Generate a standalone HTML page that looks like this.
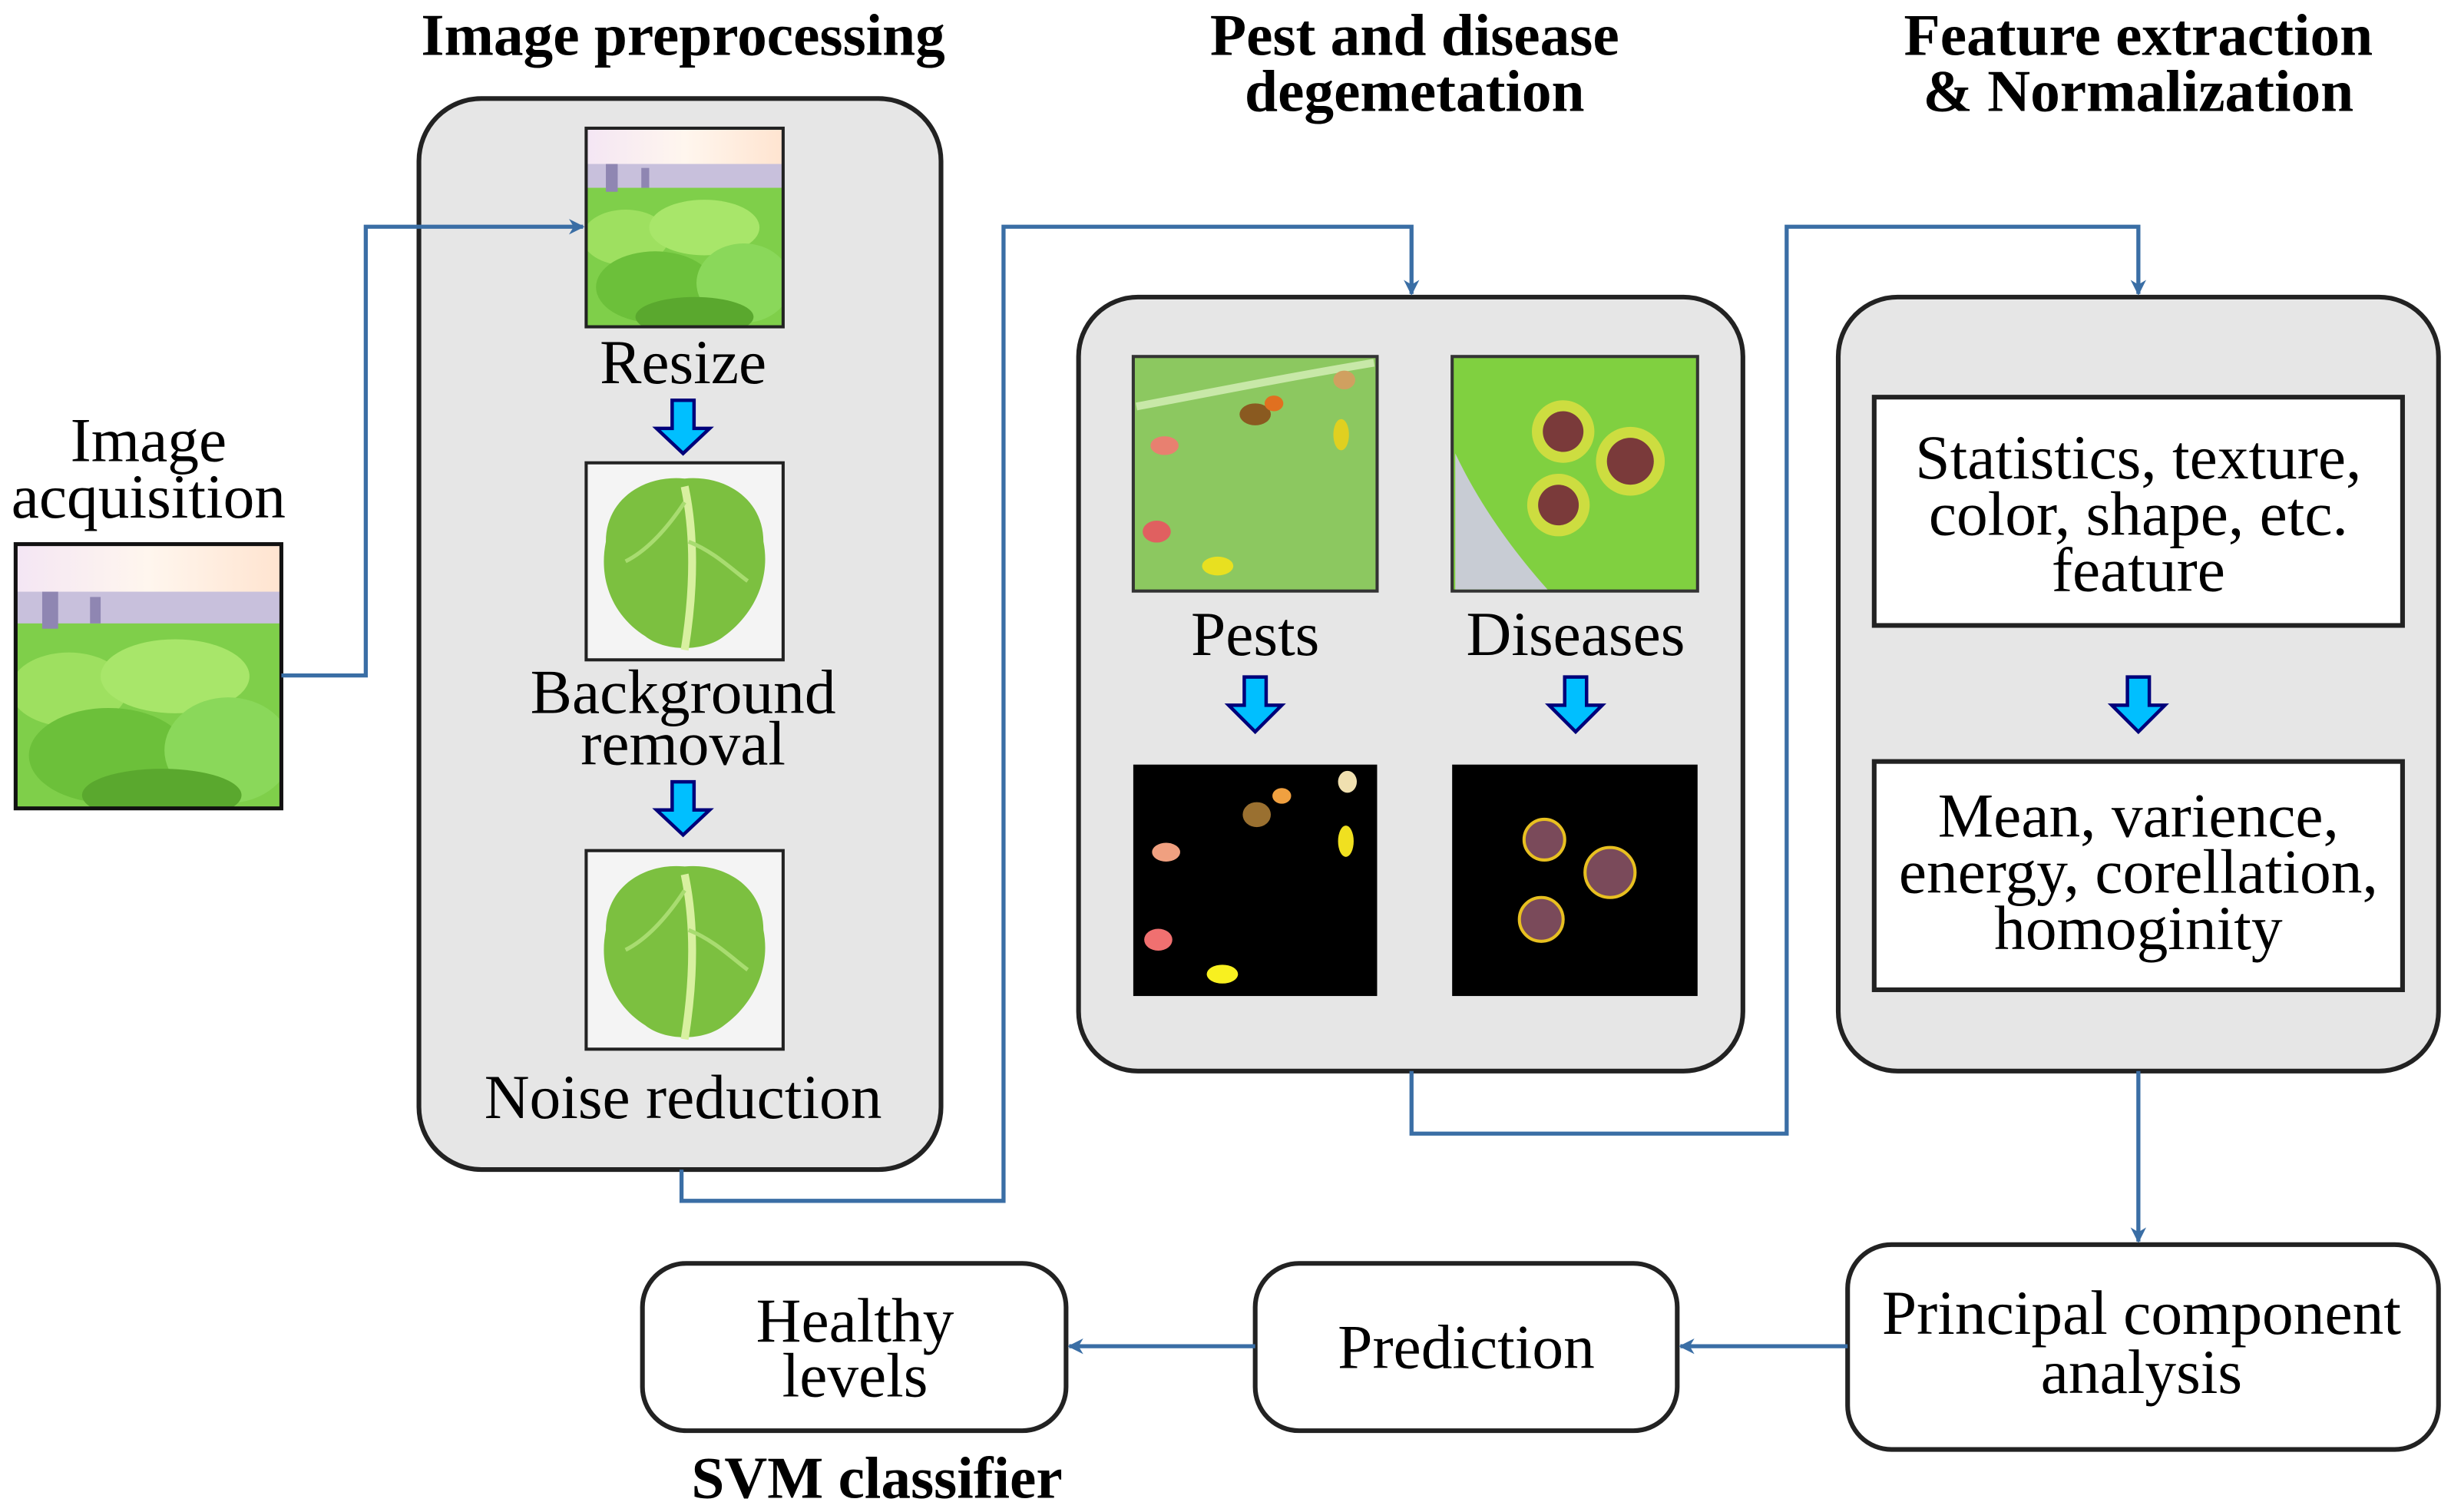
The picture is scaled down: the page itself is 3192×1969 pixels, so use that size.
<!DOCTYPE html>
<html><head><meta charset="utf-8"><style>
html,body{margin:0;padding:0;background:#fff;}
svg{display:block;}
text{font-family:"Liberation Serif",serif;fill:#000;}
.t{font-size:40px;text-anchor:middle;}
.b{font-size:38px;font-weight:bold;text-anchor:middle;}
.ln{fill:none;stroke:#3a6ea5;stroke-width:2.6;}
.ar{fill:#00bfff;stroke:#00007a;stroke-width:2.2;stroke-linejoin:miter;}
</style></head><body>
<svg width="3192" height="1969" viewBox="0 0 1568 967" preserveAspectRatio="none" xmlns="http://www.w3.org/2000/svg">
<defs>
<marker id="m" markerWidth="10" markerHeight="10" refX="9" refY="5" orient="auto" markerUnits="userSpaceOnUse"><path d="M0,0 L10,5 L0,10 L3,5 Z" fill="#3a6ea5"/></marker>
<linearGradient id="sky" x1="0" y1="0" x2="1" y2="0"><stop offset="0" stop-color="#f4e6f4"/><stop offset=".5" stop-color="#fff6ee"/><stop offset="1" stop-color="#ffe4d0"/></linearGradient>
<clipPath id="c1"><rect x="0" y="0" width="100" height="100"/></clipPath>
<g id="farm" clip-path="url(#c1)">
<rect x="0" y="0" width="100" height="100" fill="#7fcf4a"/>
<rect x="0" y="0" width="100" height="26" fill="url(#sky)"/>
<rect x="0" y="18" width="100" height="12" fill="#c8c0dc"/>
<rect x="10" y="18" width="6" height="14" fill="#8f86b2"/>
<rect x="28" y="20" width="4" height="10" fill="#8f86b2"/>
<ellipse cx="20" cy="55" rx="22" ry="14" fill="#9ee060"/>
<ellipse cx="60" cy="50" rx="28" ry="14" fill="#a8e66a"/>
<ellipse cx="35" cy="80" rx="30" ry="18" fill="#6cc03a"/>
<ellipse cx="80" cy="78" rx="24" ry="20" fill="#8ad85a"/>
<ellipse cx="55" cy="95" rx="30" ry="10" fill="#5aa82e"/>
</g>
<g id="lettuce">
<rect x="0" y="0" width="100" height="100" fill="#f4f4f4"/>
<path d="M50,8 C70,6 90,18 90,40 C94,60 84,78 70,88 C60,96 40,96 30,88 C14,78 6,60 10,40 C10,18 30,6 50,8 Z" fill="#7cc040"/>
<path d="M50,12 C56,40 54,70 50,95" stroke="#d8f0a0" stroke-width="4" fill="none"/>
<path d="M50,20 C40,35 30,45 20,50 M52,40 C65,45 75,55 82,60" stroke="#a8dc70" stroke-width="2" fill="none"/>
</g>
</defs>

<text class="b" x="437" y="35">Image preprocessing</text>
<text class="b" x="905" y="35">Pest and disease</text>
<text class="b" x="905" y="71">degemetation</text>
<text class="b" x="1368" y="35">Feature extraction</text>
<text class="b" x="1368" y="71">&amp; Normalization</text>

<text class="t" x="95" y="295">Image</text>
<text class="t" x="95" y="331">acquisition</text>
<use href="#farm" transform="translate(10,348) scale(1.7,1.69)"/>
<rect x="10" y="348" width="170" height="169" fill="none" stroke="#111" stroke-width="2.5"/>

<rect x="268" y="63" width="334" height="685" rx="40" fill="#e6e6e6" stroke="#222" stroke-width="3"/>
<use href="#farm" transform="translate(375,82) scale(1.26,1.27)"/>
<rect x="375" y="82" width="126" height="127" fill="none" stroke="#222" stroke-width="2"/>
<text class="t" x="437" y="245">Resize</text>
<path class="ar" d="M430,256 L444,256 L444,274 L454,274 L437,290 L420,274 L430,274 Z"/>
<use href="#lettuce" transform="translate(375,296) scale(1.26,1.26)"/>
<rect x="375" y="296" width="126" height="126" fill="none" stroke="#222" stroke-width="2"/>
<text class="t" x="437" y="456">Background</text>
<text class="t" x="437" y="489">removal</text>
<path class="ar" d="M430,500 L444,500 L444,518 L454,518 L437,534 L420,518 L430,518 Z"/>
<use href="#lettuce" transform="translate(375,544) scale(1.26,1.27)"/>
<rect x="375" y="544" width="126" height="127" fill="none" stroke="#222" stroke-width="2"/>
<text class="t" x="437" y="715">Noise reduction</text>

<rect x="690" y="190" width="425" height="495" rx="38" fill="#e6e6e6" stroke="#222" stroke-width="3"/>
<rect x="725" y="228" width="156" height="150" fill="#8cc860" stroke="#333" stroke-width="2"/>
<path d="M727,260 C780,250 830,240 879,232" stroke="#c8e8a8" stroke-width="5" fill="none"/>
<ellipse cx="745" cy="285" rx="9" ry="6" fill="#e88070"/>
<ellipse cx="740" cy="340" rx="9" ry="7" fill="#e06060"/>
<ellipse cx="803" cy="265" rx="10" ry="7" fill="#8a5a20"/>
<ellipse cx="815" cy="258" rx="6" ry="5" fill="#e07020"/>
<ellipse cx="860" cy="243" rx="7" ry="6" fill="#d0a060"/>
<ellipse cx="858" cy="278" rx="5" ry="10" fill="#e0d020"/>
<ellipse cx="779" cy="362" rx="10" ry="6" fill="#e8e020"/>
<rect x="929" y="228" width="157" height="150" fill="#80d040" stroke="#333" stroke-width="2"/>
<path d="M931,290 C950,330 975,360 990,377 L931,377 Z" fill="#c8ccd4"/>
<circle cx="1000" cy="276" r="20" fill="#e0e040" opacity=".8"/>
<circle cx="1043" cy="295" r="22" fill="#e0e040" opacity=".8"/>
<circle cx="997" cy="323" r="20" fill="#e0e040" opacity=".8"/>
<circle cx="1000" cy="276" r="13" fill="#7a3a3a"/>
<circle cx="1043" cy="295" r="15" fill="#7a3a3a"/>
<circle cx="997" cy="323" r="13" fill="#7a3a3a"/>
<text class="t" x="803" y="419">Pests</text>
<text class="t" x="1008" y="419">Diseases</text>
<path class="ar" d="M796,433 L810,433 L810,451 L820,451 L803,468 L786,451 L796,451 Z"/>
<path class="ar" d="M1001,433 L1015,433 L1015,451 L1025,451 L1008,468 L991,451 L1001,451 Z"/>
<rect x="725" y="489" width="156" height="148" fill="#000"/>
<ellipse cx="746" cy="545" rx="9" ry="6" fill="#f0a080"/>
<ellipse cx="741" cy="601" rx="9" ry="7" fill="#f07070"/>
<ellipse cx="804" cy="521" rx="9" ry="8" fill="#9a7030"/>
<ellipse cx="820" cy="509" rx="6" ry="5" fill="#f0a040"/>
<ellipse cx="862" cy="500" rx="6" ry="7" fill="#f0e0b0"/>
<ellipse cx="861" cy="538" rx="5" ry="10" fill="#f0e020"/>
<ellipse cx="782" cy="623" rx="10" ry="6" fill="#f8f020"/>
<rect x="929" y="489" width="157" height="148" fill="#000"/>
<circle cx="988" cy="537" r="13" fill="#7a4a5a" stroke="#e8c020" stroke-width="2"/>
<circle cx="1030" cy="558" r="16" fill="#7a4a5a" stroke="#e8c020" stroke-width="2"/>
<circle cx="986" cy="588" r="14" fill="#7a4a5a" stroke="#e8c020" stroke-width="2"/>

<rect x="1176" y="190" width="384" height="495" rx="38" fill="#e6e6e6" stroke="#222" stroke-width="3"/>
<rect x="1199" y="254" width="338" height="146" fill="#fff" stroke="#222" stroke-width="3"/>
<text class="t" x="1368" y="306">Statistics, texture,</text>
<text class="t" x="1368" y="342">color, shape, etc.</text>
<text class="t" x="1368" y="378">feature</text>
<path class="ar" d="M1361,433 L1375,433 L1375,451 L1385,451 L1368,468 L1351,451 L1361,451 Z"/>
<rect x="1199" y="487" width="338" height="146" fill="#fff" stroke="#222" stroke-width="3"/>
<text class="t" x="1368" y="535">Mean, varience,</text>
<text class="t" x="1368" y="571">energy, corellation,</text>
<text class="t" x="1368" y="607">homoginity</text>

<rect x="1182" y="796" width="378" height="131" rx="28" fill="#fff" stroke="#222" stroke-width="3"/>
<text class="t" x="1370" y="853">Principal component</text>
<text class="t" x="1370" y="891">analysis</text>
<rect x="803" y="808" width="270" height="107" rx="28" fill="#fff" stroke="#222" stroke-width="3"/>
<text class="t" x="938" y="875">Prediction</text>
<rect x="411" y="808" width="271" height="107" rx="28" fill="#fff" stroke="#222" stroke-width="3"/>
<text class="t" x="547" y="858">Healthy</text>
<text class="t" x="547" y="893">levels</text>
<text class="b" x="561" y="958">SVM classifier</text>

<path class="ln" d="M180,432 L234,432 L234,145 L373,145" marker-end="url(#m)"/>
<path class="ln" d="M436,748 L436,768 L642,768 L642,145 L903,145 L903,188" marker-end="url(#m)"/>
<path class="ln" d="M903,685 L903,725 L1143,725 L1143,145 L1368,145 L1368,188" marker-end="url(#m)"/>
<path class="ln" d="M1368,685 L1368,794" marker-end="url(#m)"/>
<path class="ln" d="M1182,861 L1075,861" marker-end="url(#m)"/>
<path class="ln" d="M803,861 L684,861" marker-end="url(#m)"/>
</svg>
</body></html>
